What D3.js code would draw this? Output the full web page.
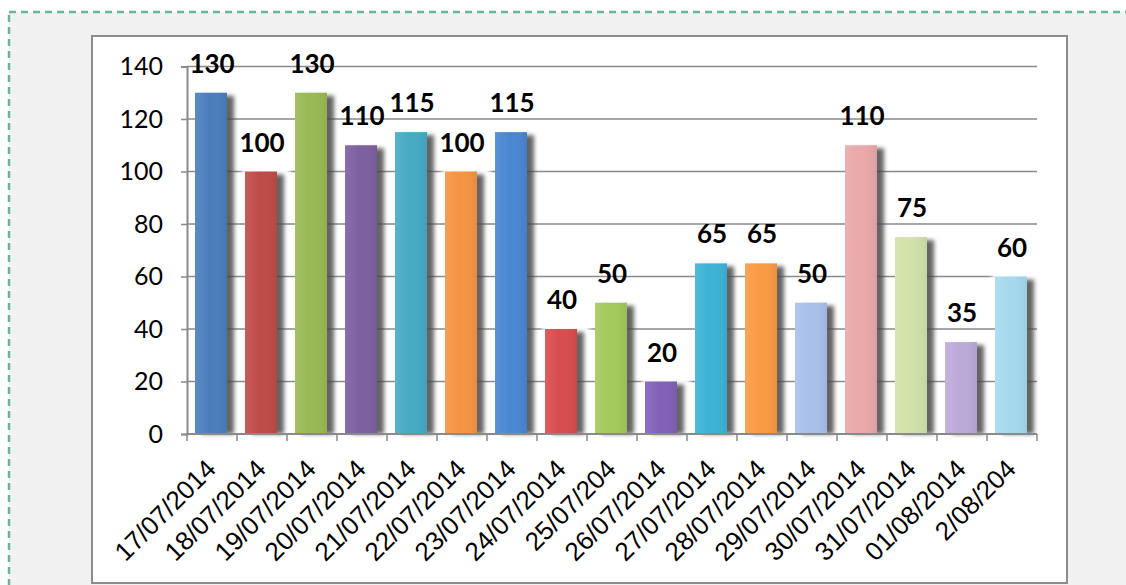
<!DOCTYPE html>
<html>
<head>
<meta charset="utf-8">
<script src="https://d3js.org/d3.v7.min.js"></script>
<style>
    body { margin: 0; background: #ffffff; }
    svg { display: block; }
</style>
</head>
<body>
<svg id="chart"></svg>
<script>
// chart values
var dates = ['17/07/2014', '18/07/2014', '19/07/2014', '20/07/2014', '21/07/2014',
    '22/07/2014', '23/07/2014', '24/07/2014', '25/07/204', '26/07/2014', '27/07/2014',
    '28/07/2014', '29/07/2014', '30/07/2014', '31/07/2014', '01/08/2014', '2/08/204'];
var counts = [130, 100, 130, 110, 115, 100, 115, 40, 50, 20, 65, 65, 50, 110, 75, 35, 60];
var barColors = ['#4a7ebb', '#be4b48', '#98b954', '#7d5fa0', '#46aac4', '#f59443',
    '#4a86d2', '#d84d4d', '#a3c95a', '#8260b8', '#3cb3d6', '#fb9a45',
    '#a9c0ea', '#eaa8aa', '#d0e2aa', '#bbaad8', '#a6d9ee'];
var yTicks = [0, 20, 40, 60, 80, 100, 120, 140];

var W = 1126, H = 585;

var svg = d3.select('#chart')
    .attr('width', W)
    .attr('height', H);

drawFrame(svg);
drawChart(svg);

function drawFrame(svg) {
    // grey page with dashed green border
    svg.append('rect')
        .attr('x', 0).attr('y', 0)
        .attr('width', W).attr('height', H)
        .attr('fill', '#ffffff');

    svg.append('rect')
        .attr('x', 9).attr('y', 12)
        .attr('width', W + 20).attr('height', H + 20)
        .attr('fill', '#f1f1f1')
        .attr('stroke', '#6ab49a')
        .attr('stroke-width', 2.5)
        .attr('stroke-dasharray', '7,5');

    // white chart box
    svg.append('rect')
        .attr('x', 92).attr('y', 36)
        .attr('width', 975).attr('height', 547)
        .attr('fill', '#ffffff')
        .attr('stroke', '#8c8c8c')
        .attr('stroke-width', 2);
}

function drawChart(svg) {
    var plot = {left: 187, right: 1037, top: 66.5, bottom: 434};

    var x = d3.scaleBand()
        .domain(dates)
        .range([plot.left, plot.right])
        .padding(0);

    var y = d3.scaleLinear()
        .domain([0, 140])
        .range([plot.bottom, plot.top]);

    var defs = svg.append('defs');

    defs.append('filter')
        .attr('id', 'blur')
        .attr('x', '-50%').attr('y', '-20%')
        .attr('width', '200%').attr('height', '140%')
        .append('feGaussianBlur')
        .attr('stdDeviation', 2.2);

    defs.append('filter')
        .attr('id', 'halo')
        .attr('x', '-50%').attr('y', '-50%')
        .attr('width', '200%').attr('height', '200%')
        .append('feGaussianBlur')
        .attr('stdDeviation', 2);

    // gloss over each bar
    var gloss = defs.append('linearGradient')
        .attr('id', 'gloss')
        .attr('x1', 0).attr('x2', 1).attr('y1', 0).attr('y2', 0);
    gloss.append('stop').attr('offset', '0%').attr('stop-color', '#ffffff').attr('stop-opacity', 0.10);
    gloss.append('stop').attr('offset', '45%').attr('stop-color', '#ffffff').attr('stop-opacity', 0.0);
    gloss.append('stop').attr('offset', '100%').attr('stop-color', '#000000').attr('stop-opacity', 0.06);

    // gridlines
    svg.append('g')
        .attr('class', 'grid')
        .selectAll('line')
        .data(yTicks.filter(function(d) { return d > 0; }))
        .enter().append('line')
            .attr('x1', plot.left)
            .attr('x2', plot.right)
            .attr('y1', function(d) { return y(d); })
            .attr('y2', function(d) { return y(d); })
            .attr('stroke', '#8a8a8a')
            .attr('stroke-width', 1.5);

    var barOffset = 8,
        barWidth = 32;

    var bar = svg.selectAll('.bar')
        .data(counts)
        .enter().append('g')
        .attr('class', 'bar');

    // white halo around the bar top
    bar.append('rect')
        .attr('x', function(d, i) { return x(dates[i]) + barOffset - 3; })
        .attr('y', function(d) { return y(d) - 6; })
        .attr('width', barWidth + 16)
        .attr('height', 16)
        .attr('rx', 7)
        .attr('fill', '#ffffff')
        .attr('filter', 'url(#halo)');

    // soft shadow to the right
    bar.append('rect')
        .attr('x', function(d, i) { return x(dates[i]) + barOffset + 7; })
        .attr('y', function(d) { return y(d) + 3; })
        .attr('width', barWidth)
        .attr('height', function(d) { return y(0) - y(d) - 3; })
        .attr('fill', '#4a4a4a')
        .attr('opacity', 0.85)
        .attr('filter', 'url(#blur)');

    bar.append('rect')
        .attr('x', function(d, i) { return x(dates[i]) + barOffset; })
        .attr('y', function(d) { return y(d); })
        .attr('width', barWidth)
        .attr('height', function(d) { return y(0) - y(d); })
        .attr('fill', function(d, i) { return barColors[i]; });

    bar.append('rect')
        .attr('x', function(d, i) { return x(dates[i]) + barOffset; })
        .attr('y', function(d) { return y(d); })
        .attr('width', barWidth)
        .attr('height', function(d) { return y(0) - y(d); })
        .attr('fill', 'url(#gloss)');

    // value labels
    bar.append('text')
        .attr('x', function(d, i) { return x(dates[i]) + x.bandwidth() / 2; })
        .attr('y', function(d) { return y(d) - 20; })
        .attr('text-anchor', 'middle')
        .style('font-family', 'Lato, "Open Sans", sans-serif')
        .style('font-weight', 'bold')
        .style('font-size', '26px')
        .attr('fill', '#000000')
        .text(function(d) { return d; });

    // y axis
    var axisY = d3.axisLeft(y)
        .tickValues(yTicks)
        .tickSize(6)
        .tickPadding(18);

    var gy = svg.append('g')
        .attr('class', 'axisY')
        .attr('transform', 'translate(' + plot.left + ',0)')
        .call(axisY);

    gy.select('.domain').attr('stroke', '#8a8a8a').attr('stroke-width', 2);
    gy.selectAll('.tick line').attr('stroke', '#8a8a8a').attr('stroke-width', 1.5);
    gy.selectAll('.tick text')
        .style('font-family', 'Lato, "Open Sans", sans-serif')
        .style('font-size', '25px')
        .attr('fill', '#000000');

    // x axis: ticks at band edges, labels rotated
    var gx = svg.append('g')
        .attr('class', 'axisX');

    gx.append('line')
        .attr('x1', plot.left).attr('x2', plot.right)
        .attr('y1', y(0)).attr('y2', y(0))
        .attr('stroke', '#8a8a8a')
        .attr('stroke-width', 2);

    var edges = dates.map(function(d) { return x(d); }).concat([plot.right]);

    gx.selectAll('.xtick')
        .data(edges)
        .enter().append('line')
            .attr('class', 'xtick')
            .attr('x1', function(d) { return d; })
            .attr('x2', function(d) { return d; })
            .attr('y1', y(0))
            .attr('y2', y(0) + 7)
            .attr('stroke', '#8a8a8a')
            .attr('stroke-width', 1.5);

    gx.selectAll('.xlabel')
        .data(dates)
        .enter().append('text')
            .attr('class', 'xlabel')
            .attr('transform', function(d) {
                return 'translate(' + (x(d) + x.bandwidth() / 2 - 1) + ',' + (y(0) + 30) + ') rotate(-45)';
            })
            .attr('text-anchor', 'end')
            .attr('dy', '0.35em')
            .style('font-family', '"Liberation Sans", Arial, sans-serif')
            .style('font-size', '26px')
            .attr('fill', '#000000')
            .text(function(d) { return d; });
}
</script>
</body>
</html>
